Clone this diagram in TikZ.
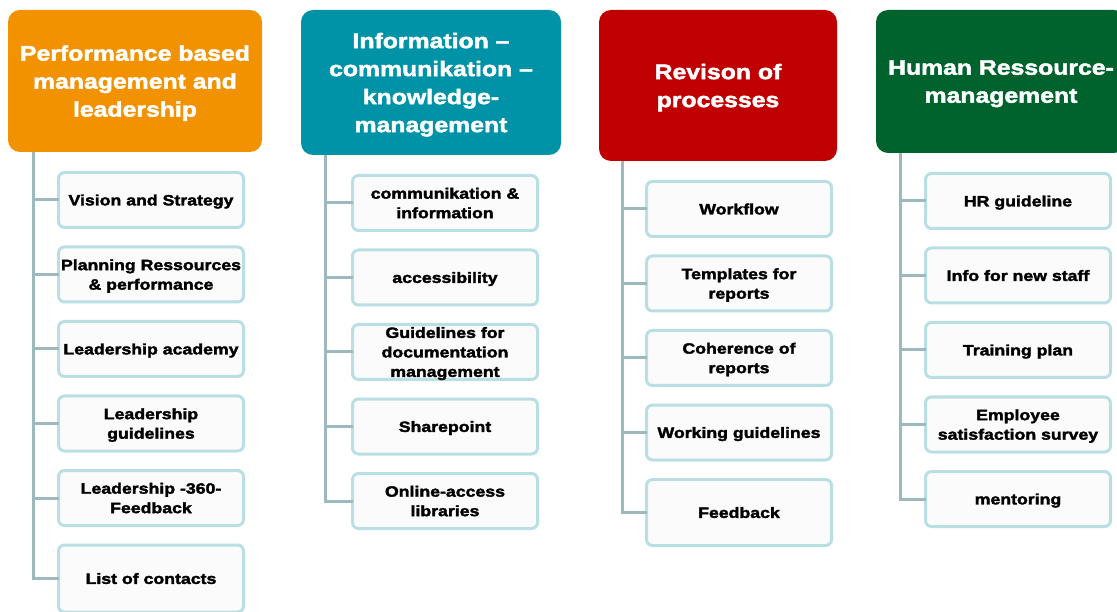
\documentclass[tikz,border=0pt]{standalone}
\usepackage{fontspec}
\setmainfont{Liberation Sans}[FakeStretch=1.18,BoldFeatures={FakeBold=2.2}]
\usetikzlibrary{positioning}
\definecolor{perforange}{HTML}{F39200}
\definecolor{infoteal}{HTML}{0092A6}
\definecolor{procred}{HTML}{C00000}
\definecolor{hrgreen}{HTML}{00632E}
\definecolor{itemframe}{HTML}{B9DEE3}
\definecolor{itemfill}{HTML}{FBFBFB}
\definecolor{trunkgray}{HTML}{9CB9BD}

\begin{document}
\begin{tikzpicture}[x=1pt, y=-1pt, node distance=19.5pt]
  \tikzstyle{head}=[rounded corners=12pt,text=white,align=center,inner sep=0pt,outer sep=0pt,anchor=north west,text depth=0pt,font=\bfseries\fontsize{21}{28}\selectfont]
  \tikzstyle{item}=[draw=itemframe,line width=3pt,fill=itemfill,rounded corners=6pt,align=center,inner sep=0pt,outer sep=0pt,minimum width=185pt,minimum height=55pt,text depth=0pt,font=\bfseries\fontsize{15}{19.5}\selectfont]
  \tikzstyle{branch}=[draw=trunkgray,line width=3pt]
  \useasboundingbox (0,0) rectangle (1117,612);

  % column heads
  \node[head,fill=perforange,minimum width=254pt,minimum height=142pt] (perf) at (8,10) {Performance based\\management and\\leadership};
  \node[head,fill=infoteal,minimum width=260pt,minimum height=145pt] (info) at (301,10) {Information –\\communikation –\\knowledge-\\management};
  \node[head,fill=procred,minimum width=238pt,minimum height=151pt] (proc) at (599,10) {Revison of\\processes};
  \node[head,fill=hrgreen,minimum width=250pt,minimum height=143pt] (hrm) at (876,10) {Human Ressource-\\management};

  % performance
  \node[item,anchor=north west] (vision) at ([shift={(50.5,20.5)}]perf.south west) {Vision and Strategy};
  \node[item,below=of vision] (planres) {Planning Ressources\\\& performance};
  \node[item,below=of planres] (academy) {Leadership academy};
  \node[item,below=of academy] (ldrguide) {Leadership\\guidelines};
  \node[item,below=of ldrguide] (ldrfeed) {Leadership -360-\\Feedback};
  \node[item,below=of ldrfeed,minimum height=67pt] (contacts) {List of contacts};

  % information
  \node[item,anchor=north west] (comm) at ([shift={(51.5,20.5)}]info.south west) {communikation \&\\information};
  \node[item,below=of comm] (access) {accessibility};
  \node[item,below=of access] (docguide) {Guidelines for\\documentation\\management};
  \node[item,below=of docguide] (sharep) {Sharepoint};
  \node[item,below=of sharep] (library) {Online-access\\libraries};

  % processes
  \node[item,anchor=north west] (workflow) at ([shift={(47.5,20.5)}]proc.south west) {Workflow};
  \node[item,below=of workflow] (templ) {Templates for\\reports};
  \node[item,below=of templ] (coher) {Coherence of\\reports};
  \node[item,below=of coher] (workguide) {Working guidelines};
  \node[item,below=of workguide,minimum height=66pt] (feedback) {Feedback};

  % human resources
  \node[item,anchor=north west] (hrguide) at ([shift={(49.5,20.5)}]hrm.south west) {HR guideline};
  \node[item,below=of hrguide] (newstaff) {Info for new staff};
  \node[item,below=of newstaff] (training) {Training plan};
  \node[item,below=of training] (survey) {Employee\\satisfaction survey};
  \node[item,below=of survey] (mentor) {mentoring};

  \coordinate (t1) at ([xshift=25pt]perf.south west);
  \coordinate (t2) at ([xshift=24pt]info.south west);
  \coordinate (t3) at ([xshift=23pt]proc.south west);
  \coordinate (t4) at ([xshift=24pt]hrm.south west);

  \draw[branch] (t1) |- (vision.west) (t1) |- (planres.west) (t1) |- (academy.west)
    (t1) |- (ldrguide.west) (t1) |- (ldrfeed.west) (t1) |- (contacts.west);
  \draw[branch] (t2) |- (comm.west) (t2) |- (access.west) (t2) |- (docguide.west)
    (t2) |- (sharep.west) (t2) |- (library.west);
  \draw[branch] (t3) |- (workflow.west) (t3) |- (templ.west) (t3) |- (coher.west)
    (t3) |- (workguide.west) (t3) |- (feedback.west);
  \draw[branch] (t4) |- (hrguide.west) (t4) |- (newstaff.west) (t4) |- (training.west)
    (t4) |- (survey.west) (t4) |- (mentor.west);
\end{tikzpicture}
\end{document}
